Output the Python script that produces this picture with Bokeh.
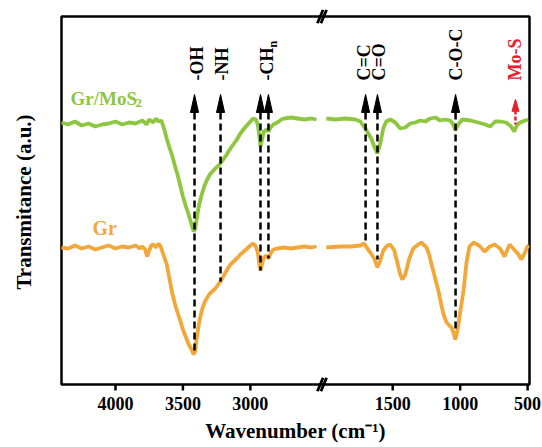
import numpy as np
from bokeh.plotting import figure
from bokeh.models import Range1d, FixedTicker
from bokeh.core.properties import value
from bokeh.embed import file_html
from bokeh.resources import INLINE

FONT = "Liberation Serif"
GREEN = "#8DC63F"
ORANGE = "#F2A73B"
RED = "#E8202A"

# ---------------- data (wavenumber cm-1, transmittance a.u.) ----------------
gr_mos2_left_wn = [4400, 4350, 4300, 4250, 4200, 4150, 4100, 4050, 4000, 3950, 3900, 3850, 3800, 3770,
                   3750, 3720, 3700, 3680, 3660, 3640, 3620, 3600, 3580, 3560, 3540, 3520, 3500, 3480,
                   3460, 3440, 3420, 3410, 3400, 3380, 3360, 3340, 3320, 3300, 3260, 3222, 3180, 3148,
                   3100, 3074, 3040, 3000, 2980, 2960, 2945, 2935, 2925, 2915, 2900, 2880, 2865, 2850,
                   2830, 2800, 2770, 2750, 2700, 2650, 2600, 2550, 2510]
gr_mos2_left_t = [65.5, 65.0, 65.75, 64.75, 65.25, 64.5, 65.0, 65.25, 65.75, 65.0, 65.5, 65.25, 66.0, 65.0,
                  66.25, 65.5, 66.5, 65.75, 66.0, 64.0, 61.5, 59.25, 57.25, 54.75, 52.5, 49.75, 47.0, 44.75,
                  42.75, 40.5, 38.25, 38.75, 41.0, 45.0, 47.5, 49.75, 51.25, 52.5, 54.0, 55.25, 57.25, 59.0,
                  61.25, 62.75, 64.25, 65.75, 66.5, 66.25, 65.0, 62.5, 59.5, 61.0, 63.25, 63.75, 63.25, 64.25,
                  65.0, 65.5, 66.25, 66.5, 66.75, 66.5, 66.25, 66.5, 66.25]

gr_mos2_right_wn = [1992, 1925, 1851, 1777, 1740, 1703, 1681, 1659, 1637, 1614, 1592, 1570, 1548, 1518,
                    1481, 1444, 1407, 1370, 1333, 1296, 1259, 1222, 1185, 1148, 1111, 1074, 1051, 1036,
                    1014, 985, 925, 866, 814, 777, 740, 703, 659, 622, 599, 577, 540, 496]
gr_mos2_right_t = [66.5, 66.25, 66.5, 66.25, 65.75, 64.0, 62.75, 61.5, 59.5, 57.75, 60.25, 64.0, 65.75, 66.25,
                   65.5, 64.0, 64.25, 65.25, 65.5, 66.0, 65.75, 66.5, 66.75, 66.0, 66.25, 66.0, 65.0, 63.5,
                   65.0, 66.25, 66.0, 65.5, 65.0, 64.5, 65.75, 65.75, 65.5, 64.5, 63.25, 65.0, 65.75, 66.25]

gr_left_wn = [4400, 4350, 4300, 4250, 4200, 4150, 4100, 4050, 4000, 3950, 3900, 3850, 3820, 3800, 3780,
              3765, 3750, 3735, 3720, 3700, 3680, 3665, 3645, 3620, 3600, 3580, 3560, 3540, 3520, 3500,
              3480, 3460, 3440, 3420, 3410, 3400, 3380, 3360, 3340, 3320, 3300, 3260, 3222, 3180, 3148,
              3100, 3074, 3040, 3000, 2980, 2960, 2945, 2935, 2925, 2915, 2900, 2880, 2865, 2850, 2830,
              2800, 2750, 2700, 2650, 2600, 2550, 2510]
gr_left_t = [34.25, 34.0, 34.75, 34.0, 34.5, 33.75, 34.25, 34.75, 34.0, 34.5, 34.25, 34.75, 34.0, 34.5, 33.75,
             32.0, 33.5, 34.75, 35.0, 34.25, 35.25, 34.5, 32.5, 30.0, 26.5, 23.0, 20.25, 18.0, 16.0, 13.75,
             12.0, 10.25, 9.0, 7.5, 8.25, 11.0, 15.5, 18.5, 20.5, 21.75, 22.75, 24.0, 25.75, 28.25, 30.0,
             31.5, 32.5, 33.5, 34.75, 35.25, 34.5, 33.0, 30.5, 28.5, 30.0, 31.75, 32.25, 31.5, 32.75, 33.75,
             34.0, 34.25, 34.0, 34.25, 34.5, 34.25, 34.5]

gr_right_wn = [1992, 1888, 1814, 1740, 1711, 1688, 1666, 1637, 1614, 1592, 1570, 1540, 1518, 1488, 1466,
               1444, 1429, 1407, 1377, 1348, 1311, 1288, 1249, 1230, 1212, 1185, 1160, 1140, 1123, 1101,
               1080, 1064, 1050, 1036, 1020, 1000, 975, 953, 931, 901, 860, 819, 780, 745, 705, 671, 634,
               600, 568, 546, 520, 501, 490]
gr_right_t = [34.25, 34.5, 34.5, 34.75, 35.25, 34.0, 33.0, 31.5, 29.25, 31.0, 33.5, 34.75, 35.0, 33.5, 30.5,
              27.5, 26.25, 27.5, 31.5, 34.0, 35.0, 35.5, 34.25, 32.5, 30.0, 26.5, 23.25, 20.0, 17.5, 15.5,
              14.75, 14.25, 13.0, 11.25, 13.5, 18.0, 23.5, 30.5, 34.5, 35.5, 34.75, 33.25, 34.5, 35.0, 34.0,
              32.0, 35.0, 33.75, 32.5, 31.25, 33.0, 34.5, 34.75]

# band assignments
band_wn = [3414, 3221, 2925, 2866, 1701, 1613, 1034]
band_end_t = [7.5, 25.75, 28.5, 31.5, 35.25, 31.25, 13.0]
label_text = ["-OH", "-NH", "-CH", "C=C", "C=O", "C-O-C"]
label_wn = [3399, 3207, 2880, 1716, 1598, 1034]
mos_wn = 590
mos_label = "Mo-S"

tick_values = [4000, 3500, 3000, 1500, 1000, 500]

# ---------------- broken axis mapping ----------------
GAP = 445          # width of the removed 2000-2500 region on the axis
BREAK_AT = 2469
X_LO, X_HI = 4400, 931      # plotted x limits (axis coordinates)
Y_LO, Y_HI = 0, 92          # plotted y limits


def ax(w):
    w = np.asarray(w, dtype=float)
    return np.where(w >= 2300, w, w + GAP)


# frame is a little larger than the drawn box so the break marks are not clipped
PADX, PADY_T, PADY_B = 14.8, 1.75, 2.5
p = figure(width=542, height=447,
           x_range=Range1d(X_LO + PADX, X_HI - PADX), y_range=Range1d(Y_LO - PADY_B, Y_HI + PADY_T),
           output_backend="svg", toolbar_location=None,
           min_border_left=59, min_border_right=11, min_border_top=9, min_border_bottom=53)
p.background_fill_color = "white"
p.border_fill_color = "white"
p.xgrid.visible = False
p.ygrid.visible = False
p.outline_line_color = None

# box
p.quad(left=[X_LO], right=[X_HI], bottom=[Y_LO], top=[Y_HI], fill_color=None,
       line_color="black", line_width=2.5)

# curves
p.line(ax(gr_mos2_left_wn), gr_mos2_left_t, line_color=GREEN, line_width=3.8)
p.line(ax(gr_mos2_right_wn), gr_mos2_right_t, line_color=GREEN, line_width=3.8)
p.line(ax(gr_left_wn), gr_left_t, line_color=ORANGE, line_width=3.8)
p.line(ax(gr_right_wn), gr_right_t, line_color=ORANGE, line_width=3.8)

# dashed band markers with arrow heads
TIP, BASE, HALF = 72.5, 68.0, 30
bx = ax(band_wn)
p.segment(x0=bx, y0=[BASE] * len(bx), x1=bx, y1=band_end_t, line_color="black",
          line_width=2.5, line_dash="7 4")
p.patches(xs=[[x - HALF, x, x + HALF] for x in bx], ys=[[BASE, TIP, BASE] for _ in bx],
          fill_color="black", line_color="black", line_width=1)

mx = float(ax([mos_wn])[0])
p.segment(x0=[mx], y0=[68.5], x1=[mx], y1=[65.0], line_color=RED, line_width=2.5, line_dash="4 2")
p.patches(xs=[[mx - 26, mx, mx + 26]], ys=[[68.3, 71.3, 68.3]], fill_color=RED, line_color=RED,
          line_width=1)

# band labels (rotated, reading upward)
lx = ax(label_wn)
p.text(x=lx, y=[76] * len(lx), text=label_text, angle=np.pi / 2, text_align="left",
       text_baseline="middle", text_font=value(FONT), text_font_style="bold",
       text_font_size="18px", text_color="black")
p.text(x=[lx[2]], y=[76], text=["n"], angle=np.pi / 2, text_align="left", text_baseline="middle",
       x_offset=6, y_offset=-33, text_font=value(FONT), text_font_style="bold",
       text_font_size="12px", text_color="black")
p.text(x=[mx], y=[76], text=[mos_label], angle=np.pi / 2, text_align="left", text_baseline="middle",
       text_font=value(FONT), text_font_style="bold", text_font_size="18px", text_color=RED)

# series labels
p.text(x=[4333], y=[71.5], text=["Gr/MoS"], text_align="left", text_baseline="alphabetic",
       text_font=value(FONT), text_font_style="bold", text_font_size="19px", text_color=GREEN)
p.text(x=[4333], y=[71.5], text=["2"], x_offset=65, y_offset=4, text_align="left",
       text_baseline="alphabetic", text_font=value(FONT), text_font_style="bold",
       text_font_size="13px", text_color=GREEN)
p.text(x=[4170], y=[39.25], text=["Gr"], text_align="left", text_baseline="alphabetic",
       text_font=value(FONT), text_font_style="bold", text_font_size="20px", text_color=ORANGE)

# axis-break marks "//" across the top and bottom box lines
DX, DY, SEP = 21, 1.7, 26
bk_x0, bk_y0, bk_x1, bk_y1 = [], [], [], []
for yb in (Y_LO, Y_HI):
    for s in (-SEP / 2, SEP / 2):
        bk_x0.append(BREAK_AT + s + DX)
        bk_y0.append(yb - DY)
        bk_x1.append(BREAK_AT + s - DX)
        bk_y1.append(yb + DY)
p.segment(x0=bk_x0, y0=bk_y0, x1=bk_x1, y1=bk_y1, line_color="black", line_width=2.8)

# ticks (outward from the box bottom)
tick_pos = [float(v) for v in ax(tick_values)]
p.segment(x0=tick_pos, y0=[Y_LO] * len(tick_pos), x1=tick_pos, y1=[Y_LO - 1.5] * len(tick_pos),
          line_color="black", line_width=2.5)

# axes
p.xaxis.ticker = FixedTicker(ticks=tick_pos)
p.xaxis.major_label_overrides = {tp: str(tv) for tp, tv in zip(tick_pos, tick_values)}
p.xaxis.minor_tick_line_color = None
p.xaxis.major_tick_line_color = None
p.xaxis.major_tick_in = 0
p.xaxis.major_tick_out = 0
p.xaxis.axis_line_color = None
p.xaxis.major_label_standoff = 2
p.xaxis.major_label_text_font = FONT
p.xaxis.major_label_text_font_style = "bold"
p.xaxis.major_label_text_font_size = "18px"
p.xaxis.major_label_text_color = "black"
p.xaxis.axis_label = "Wavenumber (cm\u207b\u00b9)"
p.xaxis.axis_label_text_font = FONT
p.xaxis.axis_label_text_font_style = "bold"
p.xaxis.axis_label_text_font_size = "21px"
p.xaxis.axis_label_text_color = "black"
p.xaxis.axis_label_standoff = 6

p.yaxis.ticker = FixedTicker(ticks=[])
p.yaxis.major_tick_out = 0
p.yaxis.major_tick_in = 0
p.yaxis.minor_tick_line_color = None
p.yaxis.axis_line_color = None
p.yaxis.axis_label = "Transmitance (a.u.)"
p.yaxis.axis_label_text_font = FONT
p.yaxis.axis_label_text_font_style = "bold"
p.yaxis.axis_label_text_font_size = "21px"
p.yaxis.axis_label_text_color = "black"
p.yaxis.axis_label_standoff = 24

open("out.html", "w").write(file_html(p, INLINE))
